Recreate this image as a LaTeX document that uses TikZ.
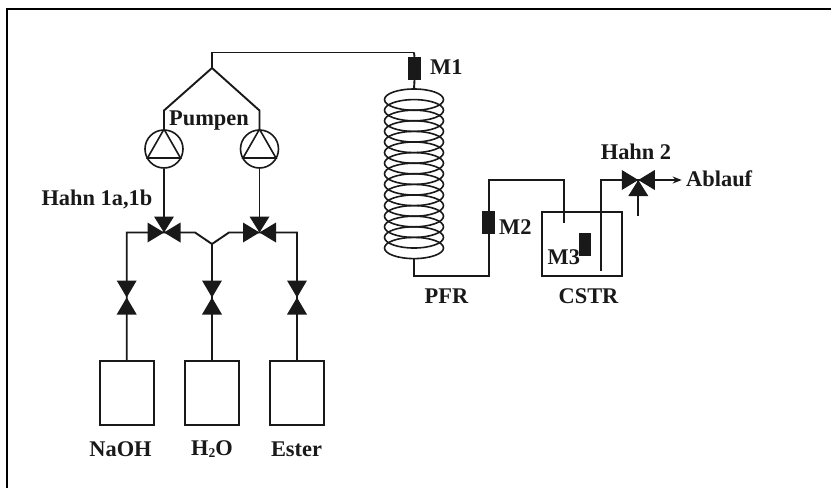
\documentclass[tikz,border=0pt]{standalone}
\usepackage{fontspec}
\setmainfont{Liberation Serif}
\usetikzlibrary{arrows.meta,calc}
\tikzset{
 pipe/.style={line width=1.9pt,black!90},
 tank/.style={draw=black!90,line width=1.9pt,fill=white,minimum width=54pt,minimum height=64pt,inner sep=0pt},
 sensor/.style={fill=black!90,draw=none,minimum width=12.5pt,minimum height=23pt,inner sep=0pt},
 pumpc/.style={circle,draw=black!90,line width=1.6pt,minimum size=38pt,inner sep=0pt},
 lbl/.style={font=\fontsize{22.4}{22.4}\selectfont\bfseries,inner sep=0pt,text=black!90},
}
\newcommand{\valveTwo}[1]{%
 \fill[black!90] (#1)++(-10,-17)--++(20,0)--(#1)--cycle;
 \fill[black!90] (#1)++(-10,17)--++(20,0)--(#1)--cycle;}
\newcommand{\valveThree}[2]{%
 \fill[black!90] (#1)++(-16.5,-10)--++(0,20)--(#1)--cycle;
 \fill[black!90] (#1)++(16.5,-10)--++(0,20)--(#1)--cycle;
 \fill[black!90] (#1)++(-10,#2*16)--++(20,0)--(#1)--cycle;}
\begin{document}
\begin{tikzpicture}[x=1pt,y=-1pt]
\useasboundingbox (0,0) rectangle (831,488);
\fill[white] (0,0) rectangle (831,488);
\draw[line width=2.2pt,black] (6.7,488)--(6.7,9.3)--(831,9.3);
\coordinate (top) at (212,68);
\coordinate (corner1) at (212,52.5);
\coordinate (corner2) at (414,52.5);
\coordinate (bl) at (164,110.5);
\coordinate (br) at (259.5,110.5);
\coordinate (va) at (164,232.5);
\coordinate (vb) at (259.5,232.5);
\coordinate (mid) at (212,244);
\coordinate (la) at (195,232.5);
\coordinate (lb) at (229,232.5);
\coordinate (ll) at (126.7,232.5);
\coordinate (lr) at (297,232.5);
\coordinate (v1) at (126.7,297.5);
\coordinate (v2) at (212,297.5);
\coordinate (v3) at (297,297.5);
\node[tank] (t1) at (126.7,393) {};
\node[tank] (t2) at (212,393) {};
\node[tank] (t3) at (297,393) {};
\node[pumpc] (p1) at (164,149) {};
\node[pumpc] (p2) at (259.5,149) {};
\foreach \p in {p1,p2}{
 \draw[line width=1.6pt,black!90,line join=miter] (\p.north)--($(\p)+(16.5,9)$)--($(\p)+(-16.5,9)$)--cycle;
}
\draw[pipe] (corner2)--(corner1)--(top);
\draw[pipe] (p1.north)--(bl)--(top)--(br)--(p2.north);
\draw[pipe] (p1.south)--(va);
\draw[pipe] (p2.south)--(vb);
\draw[pipe] (t1.north)--(ll)--(va)--(la)--(mid)--(lb)--(vb)--(lr)--(t3.north);
\draw[pipe] (t2.north)--(mid);
\valveThree{va}{-1}
\valveThree{vb}{-1}
\valveTwo{v1}
\valveTwo{v2}
\valveTwo{v3}
\coordinate (ctop) at (414,89);
\coordinate (cbot) at (414,259.3);
\foreach \i in {0,...,14}{
 \draw[line width=1.6pt,black!90] (414,99.6+10.6*\i) ellipse [x radius=29.5,y radius=10.6];
}
\node[sensor] (m1) at (414.5,68.5) {};
\draw[pipe] (corner2)--(m1.north);
\draw[pipe] (m1.south)--(ctop);
\coordinate (c1) at (414,276);
\coordinate (c2) at (488.7,276);
\coordinate (c3) at (488.7,180);
\coordinate (c4) at (563.7,180);
\coordinate (c5) at (563.7,222.7);
\node[sensor] (m2) at (488.7,222.5) {};
\draw[pipe] (cbot)--(c1)--(c2)--(m2.south);
\draw[pipe] (m2.north)--(c3)--(c4)--(c5);
\node[draw=black!90,line width=1.8pt,minimum width=80.3pt,minimum height=64.3pt,inner sep=0pt] (cstr) at (582.2,243.9) {};
\node[sensor] (m3) at (584.9,244) {};
\coordinate (o1) at (600.7,270.7);
\coordinate (o2) at (600.7,180);
\coordinate (v4) at (638.3,180);
\coordinate (o3) at (681.7,180);
\coordinate (o4) at (638.3,215.7);
\draw[pipe] (o1)--(o2)--(v4);
\draw[pipe,-{Stealth[length=9pt,width=7pt]}] (v4)--(o3);
\draw[pipe] (v4)--(o4);
\valveThree{v4}{1}
\node[lbl] (l1) at (209,120.5) {Pumpen};
\node[lbl,anchor=east] (l2) at (152.5,199) {Hahn 1a,1b};
\node[lbl] (l3) at (120.5,449) {NaOH};
\node[lbl] (l4) at (212,449) {H\raisebox{-2.5pt}{\fontsize{13.5}{13.5}\selectfont 2}O};
\node[lbl] (l5) at (296.5,449) {Ester};
\node[lbl,anchor=west] (l6) at (430,67) {M1};
\node[lbl,anchor=west] (l7) at (499,227) {M2};
\node[lbl,anchor=west] (l8) at (547.5,257) {M3};
\node[lbl] (l9) at (446.5,296) {PFR};
\node[lbl] (l10) at (588.5,296) {CSTR};
\node[lbl] (l11) at (636,152) {Hahn 2};
\node[lbl,anchor=west] (l12) at (686,179) {Ablauf};
\end{tikzpicture}
\end{document}
